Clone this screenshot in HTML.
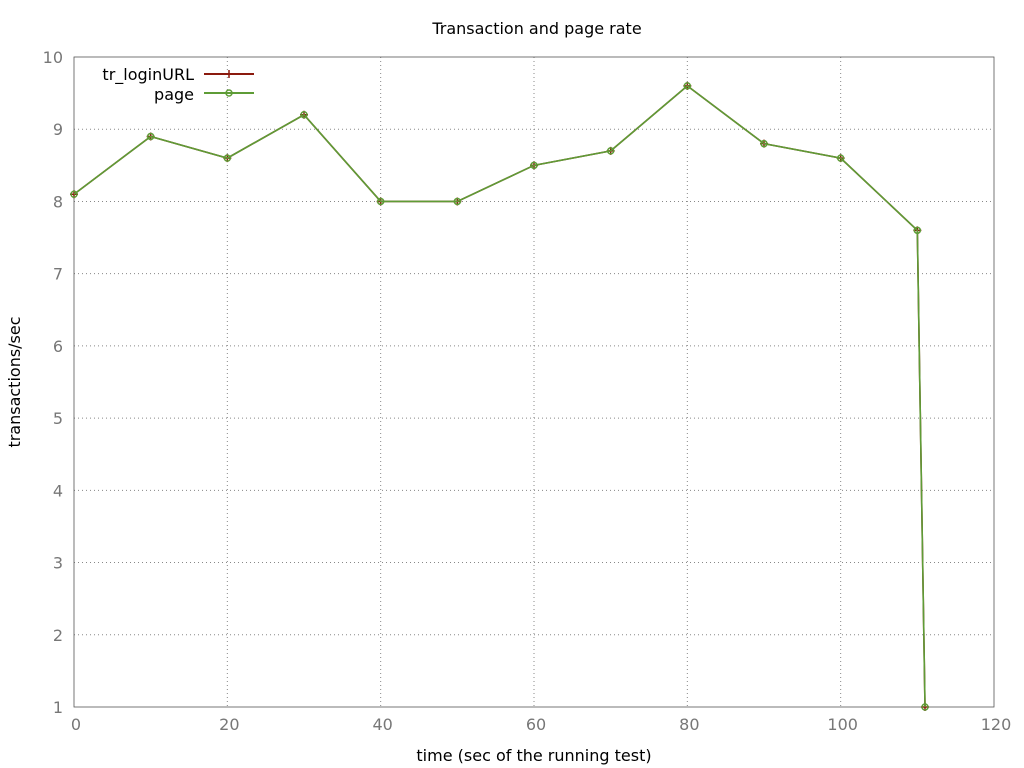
<!DOCTYPE html>
<html><head><meta charset="utf-8"><style>
html,body{margin:0;padding:0;background:#fff;}
svg{display:block;font-family:"DejaVu Sans","Liberation Sans",sans-serif;}
</style></head><body>
<svg id="chart" width="1024" height="768">
<text x="537" y="34" text-anchor="middle" font-size="16" fill="#000">Transaction and page rate</text>
<text x="534" y="761" text-anchor="middle" font-size="16" fill="#000">time (sec of the running test)</text>
<text transform="translate(20,382) rotate(-90)" text-anchor="middle" font-size="16" fill="#000">transactions/sec</text>
<g id="grid"></g>
<rect x="74" y="57" width="920" height="650" fill="none" stroke="#555" stroke-width="0.8"/>
<g id="ticks"></g>
<g id="series"></g>
<g>
<text x="194" y="80" text-anchor="end" font-size="16">tr_loginURL</text>
<line x1="204" y1="74" x2="254" y2="74" stroke="#8b1a0e" stroke-width="2"/>
<path d="M225,74h8M229,70v8" stroke="#8b1a0e" stroke-width="1.5"/>
<text x="194" y="100" text-anchor="end" font-size="16">page</text>
<line x1="204" y1="93" x2="254" y2="93" stroke="#5e9c36" stroke-width="2"/>
<circle cx="229" cy="93" r="3" fill="none" stroke="#5e9c36" stroke-width="1.5"/>
</g>
</svg>
<script>
const times = [0,10,20,30,40,50,60,70,80,90,100,110,111];
const trLoginValues = [8.1,8.9,8.6,9.2,8.0,8.0,8.5,8.7,9.6,8.8,8.6,7.6,1.0];
const pageValues = [8.1,8.9,8.6,9.2,8.0,8.0,8.5,8.7,9.6,8.8,8.6,7.6,1.0];
const xTicks = [0,20,40,60,80,100,120];
const xGridTicks = [20,40,60,80,100];
const yTicks = [1,2,3,4,5,6,7,8,9,10];

const NS="http://www.w3.org/2000/svg";
const X0=74,X1=994,Y0=707,Y1=57;
function xs(v){return X0+(v-0)/(120-0)*(X1-X0);}
function ys(v){return Y0-(v-1)/(10-1)*(Y0-Y1);}
function mk(tag,attrs,parent){const e=document.createElementNS(NS,tag);for(const k in attrs)e.setAttribute(k,attrs[k]);parent.appendChild(e);return e;}
const grid=document.getElementById('grid'),ticks=document.getElementById('ticks'),series=document.getElementById('series');
xGridTicks.forEach(t=>{
  const l=mk('line',{x1:xs(t),x2:xs(t),y1:Y1,y2:Y0,stroke:'#888','stroke-width':1,'stroke-dasharray':'1,3'},grid);
  
  
});
yTicks.forEach(t=>{
  if(t===1||t===10)return;
  const l=mk('line',{x1:X0,x2:X1,y1:ys(t),y2:ys(t),stroke:'#888','stroke-width':1,'stroke-dasharray':'1,3'},grid);
  
  
});
xTicks.forEach(t=>{
  const tx=mk('text',{x:xs(t)+2,y:730,'text-anchor':'middle','font-size':16,fill:'#777'},ticks);
  tx.textContent=t;
  
  
});
yTicks.forEach(t=>{
  const tx=mk('text',{x:63,y:ys(t)+6,'text-anchor':'end','font-size':16,fill:'#777'},ticks);
  tx.textContent=t;
  
  
});
function drawSeries(vals,color,name,marker){
  const pts=times.map((t,i)=>xs(t)+','+ys(vals[i])).join(' ');
  const pl=mk('polyline',{points:pts,fill:'none',stroke:color,'stroke-width':1.6},series);
  
  
  times.forEach((t,i)=>{
    const cx=xs(t),cy=ys(vals[i]);
    let m;
    if(marker==='plus') m=mk('path',{d:`M${cx-4},${cy}h8M${cx},${cy-4}v8`,stroke:color,'stroke-width':1.5},series);
    else m=mk('circle',{cx:cx,cy:cy,r:3,fill:'none',stroke:color,'stroke-width':1.5},series);
    
    
  });
}
drawSeries(trLoginValues,'#8b1a0e','tr-loginurl','plus');
drawSeries(pageValues,'#5e9c36','page','circle');
</script>
</body></html>
